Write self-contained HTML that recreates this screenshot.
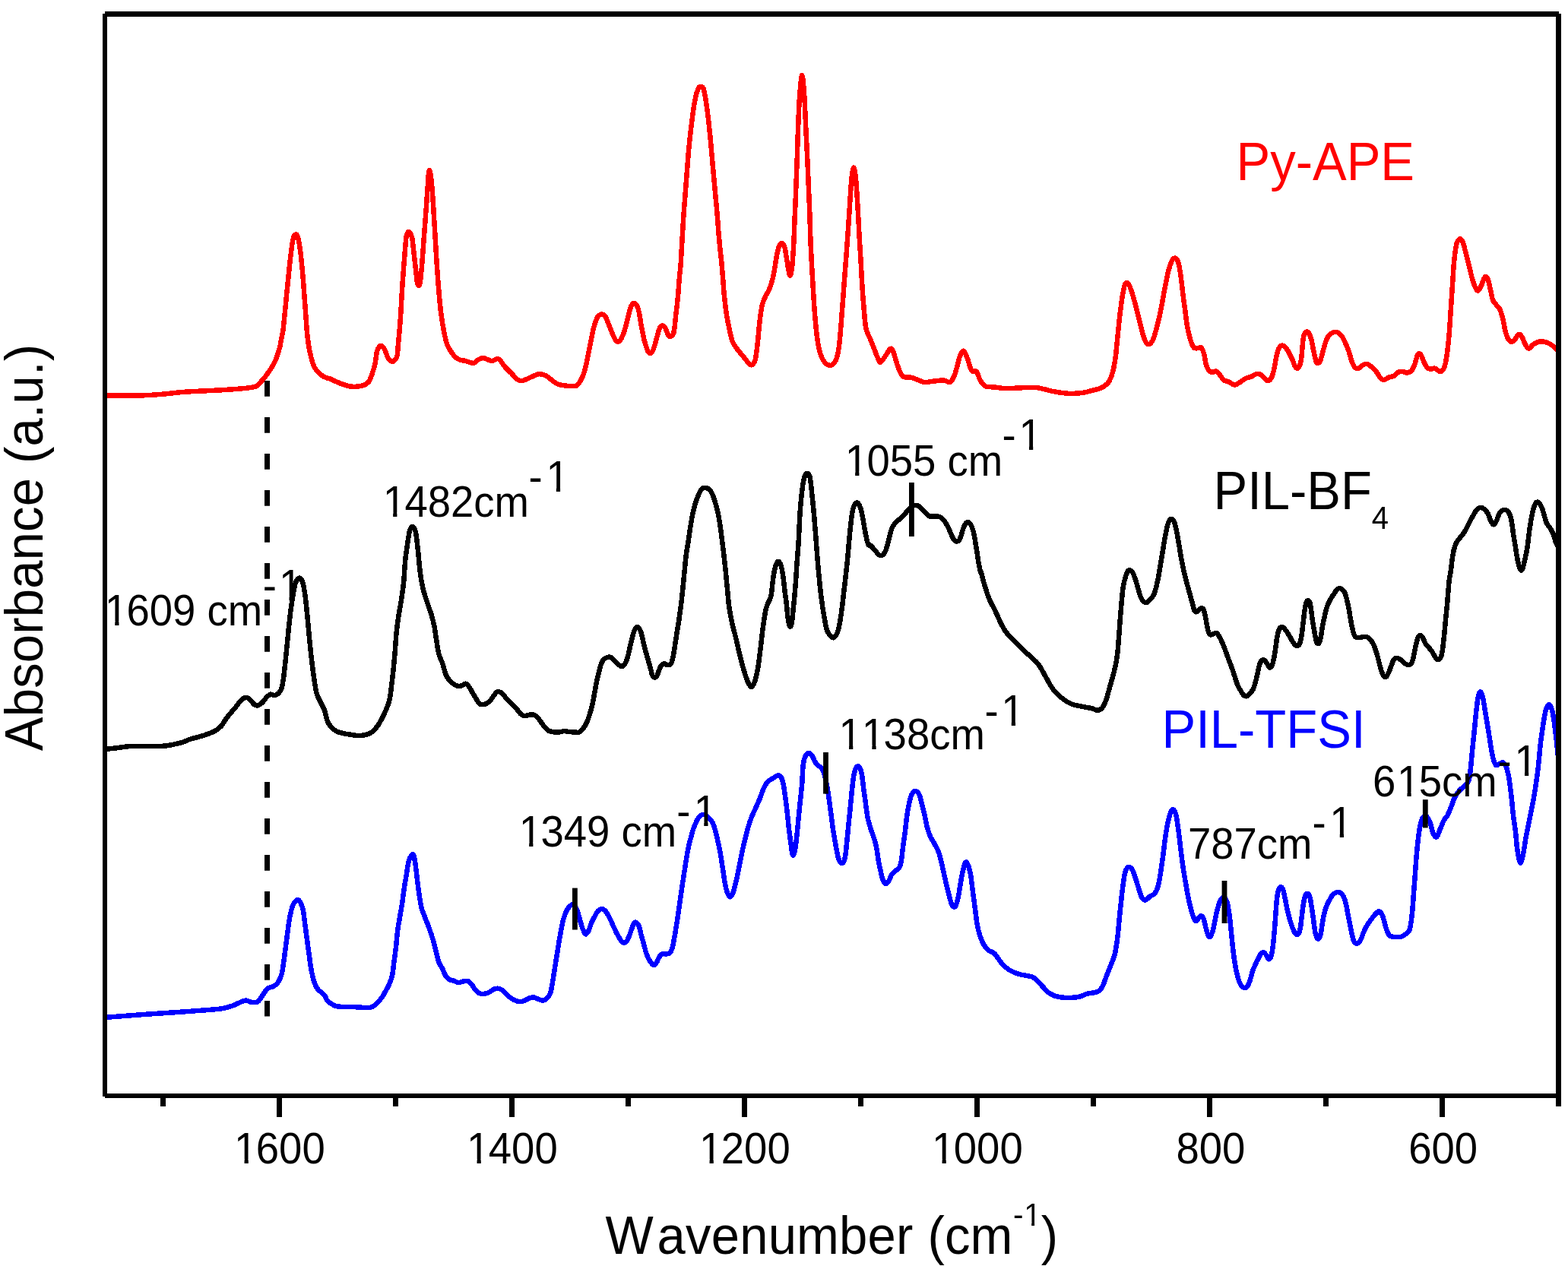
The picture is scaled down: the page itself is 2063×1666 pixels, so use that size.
<!DOCTYPE html><html><head><meta charset="utf-8"><title>FTIR spectra</title>
<style>html,body{margin:0;padding:0;background:#fff;}body{width:2063px;height:1666px;overflow:hidden;}svg{display:block;font-family:'Liberation Sans',Arial,Helvetica,sans-serif;font-kerning:none;}</style></head><body>
<svg xmlns="http://www.w3.org/2000/svg" width="2063" height="1666" viewBox="0 0 2063 1666">
<rect width="2063" height="1666" fill="#fff"/>
<defs><clipPath id="pa"><rect x="138" y="18" width="1912.5" height="1424"/></clipPath></defs>
<line x1="351.5" y1="501" x2="351.5" y2="1337.5" stroke="#000" stroke-width="7" stroke-dasharray="20.7 27.3"/>
<g clip-path="url(#pa)" fill="none" stroke-width="6.5" stroke-linejoin="round" stroke-linecap="round" shape-rendering="crispEdges">
<path stroke="#f00" d="M138.0,520.4C146.1,520.4 174.0,520.7 186.5,520.4C199.0,520.1 203.4,519.6 213.0,518.8C222.6,518.0 231.0,516.6 244.0,515.7C257.0,514.8 278.0,514.1 291.0,513.3C304.0,512.5 314.5,511.8 322.0,511.0C329.5,510.2 333.0,509.6 336.0,508.7C339.0,507.8 338.8,506.7 340.1,505.5C341.5,504.3 342.8,502.9 344.1,501.5C345.4,500.1 346.8,498.7 348.1,497.0C349.4,495.3 350.8,493.2 352.1,491.3C353.4,489.4 354.9,487.5 356.1,485.6C357.3,483.7 358.4,481.8 359.5,479.9C360.6,478.0 361.5,476.1 362.4,474.2C363.2,472.3 363.9,470.4 364.6,468.5C365.3,466.6 365.8,464.7 366.4,462.8C367.0,460.9 367.6,459.0 368.1,457.1C368.6,455.2 368.8,453.3 369.2,451.4C369.6,449.5 369.9,447.6 370.3,445.7C370.7,443.8 371.1,441.9 371.5,440.0C371.9,438.1 372.1,438.2 372.5,434.5C372.9,430.8 373.6,423.2 374.2,417.6C374.8,412.0 375.3,406.4 375.9,400.8C376.4,395.2 376.9,389.6 377.5,384.0C378.1,378.4 378.6,372.8 379.2,367.2C379.8,361.6 380.3,355.7 380.9,350.4C381.5,345.1 382.0,340.1 382.6,335.3C383.2,330.5 383.7,325.7 384.3,321.8C384.9,317.9 385.5,314.0 386.4,311.8C387.3,309.6 388.8,308.4 389.7,308.4C390.6,308.4 391.1,309.6 391.8,311.8C392.5,314.0 393.3,318.2 393.9,321.8C394.5,325.4 395.1,329.5 395.6,333.6C396.1,337.7 396.5,342.0 396.9,346.2C397.3,350.4 397.7,354.1 398.1,358.8C398.5,363.5 399.0,369.3 399.4,374.5C399.8,379.7 400.1,384.9 400.5,390.2C400.9,395.5 401.3,401.0 401.7,406.4C402.1,411.8 402.5,417.2 402.9,422.6C403.3,428.0 403.6,433.4 404.1,438.8C404.7,444.2 405.4,450.3 406.2,455.0C406.9,459.7 407.7,463.4 408.6,467.2C409.5,471.0 410.4,474.7 411.4,477.7C412.4,480.7 413.3,482.9 414.7,485.0C416.1,487.1 417.9,489.0 419.5,490.6C421.1,492.2 422.8,493.6 424.4,494.7C426.0,495.8 427.5,496.5 429.2,497.1C430.9,497.7 433.0,497.9 434.7,498.5C436.4,499.1 436.9,499.8 439.6,501.0C442.3,502.2 447.2,504.5 451.1,505.8C455.0,507.1 458.5,508.4 462.7,508.7C466.9,509.0 472.4,508.7 476.1,507.7C479.8,506.7 482.5,505.5 484.7,502.9C486.9,500.3 488.1,496.3 489.5,492.3C490.9,488.3 492.3,484.0 493.4,478.9C494.5,473.8 495.0,465.6 496.3,461.6C497.6,457.6 499.5,455.2 501.1,454.9C502.7,454.6 504.3,457.0 505.9,459.7C507.5,462.4 508.9,468.5 510.7,471.2C512.5,473.9 514.5,476.3 516.4,476.0C518.3,475.7 521.0,472.8 522.2,469.3C523.4,465.8 523.2,460.7 523.8,455.0C524.4,449.3 525.0,441.9 525.6,435.0C526.2,428.1 526.6,424.0 527.2,413.8C527.9,403.6 528.7,385.9 529.5,374.0C530.3,362.1 531.1,352.3 531.9,342.2C532.7,332.1 533.5,319.6 534.3,313.6C535.1,307.6 535.7,307.3 536.5,306.0C537.3,304.7 538.1,304.4 539.1,305.7C540.1,307.0 541.4,308.8 542.3,313.6C543.2,318.4 543.9,327.4 544.7,334.3C545.5,341.2 546.2,348.4 547.0,355.0C547.8,361.6 548.5,371.1 549.4,374.0C550.3,376.9 551.7,376.5 552.6,372.5C553.5,368.5 554.2,359.2 555.0,350.2C555.8,341.2 556.6,329.0 557.4,318.4C558.2,307.8 559.0,297.2 559.8,286.6C560.6,276.0 561.5,264.1 562.1,254.8C562.8,245.5 563.2,236.0 563.7,230.9C564.2,225.8 564.6,223.2 565.3,224.5C566.0,225.8 566.9,231.2 567.7,238.9C568.5,246.6 569.3,258.8 570.1,270.7C570.9,282.6 571.7,297.1 572.5,310.4C573.3,323.6 574.1,338.3 574.9,350.2C575.7,362.1 576.4,371.4 577.3,382.0C578.2,392.6 579.2,404.5 580.4,413.8C581.6,423.1 583.1,431.1 584.4,437.7C585.7,444.3 586.8,449.2 588.4,453.6C590.0,458.0 592.5,461.3 594.3,464.0C596.1,466.7 597.4,468.4 599.2,470.0C601.0,471.6 602.8,472.8 605.0,473.6C607.2,474.4 609.5,474.3 612.5,475.0C615.5,475.7 620.1,478.2 623.0,477.9C625.9,477.6 627.5,474.2 629.7,473.1C632.0,472.0 633.6,470.9 636.5,471.2C639.4,471.5 643.8,474.8 647.0,475.0C650.2,475.2 652.8,470.9 655.7,472.2C658.6,473.5 661.3,479.3 664.3,482.7C667.3,486.1 671.3,489.6 673.9,492.3C676.5,495.0 677.5,497.6 679.7,499.0C682.0,500.4 684.2,501.5 687.4,501.0C690.6,500.5 695.4,497.6 698.9,496.2C702.4,494.8 705.3,492.6 708.5,492.3C711.7,492.0 715.2,493.0 718.1,494.3C721.0,495.6 723.0,498.1 725.8,500.0C728.6,501.9 730.2,504.5 735.1,505.9C740.0,507.3 750.8,508.2 755.0,508.2C759.2,508.2 758.6,507.4 760.1,506.1C761.6,504.8 763.0,502.4 764.3,500.2C765.5,497.9 766.5,495.6 767.6,492.6C768.7,489.7 769.7,486.1 770.6,482.5C771.5,478.9 772.3,474.6 773.1,470.8C773.9,467.0 774.4,463.7 775.2,459.8C776.0,455.9 776.9,451.4 777.7,447.2C778.6,443.0 779.4,438.4 780.3,434.6C781.2,430.8 782.1,427.6 783.2,424.5C784.3,421.4 785.5,417.9 787.0,416.1C788.5,414.3 790.5,413.6 792.0,413.6C793.5,413.6 794.9,414.4 796.2,416.1C797.5,417.8 798.5,421.0 799.6,423.7C800.7,426.4 801.8,429.3 802.9,432.1C804.0,434.9 805.2,438.0 806.3,440.5C807.4,443.0 808.6,445.7 809.7,447.2C810.8,448.7 811.9,449.7 813.0,449.7C814.1,449.7 815.3,448.7 816.4,447.2C817.5,445.7 818.7,442.9 819.7,440.5C820.7,438.1 821.4,435.7 822.3,432.9C823.1,430.1 824.0,426.9 824.8,423.7C825.6,420.5 826.5,416.8 827.3,413.6C828.1,410.4 828.9,406.8 829.8,404.4C830.7,402.0 831.7,400.0 832.8,399.3C833.9,398.6 835.5,399.1 836.6,400.2C837.7,401.3 838.7,403.6 839.5,406.1C840.3,408.6 841.0,412.0 841.6,415.3C842.2,418.6 842.7,422.6 843.3,426.2C843.9,429.8 844.7,433.6 845.4,437.1C846.1,440.6 846.7,444.1 847.5,447.2C848.3,450.3 849.2,453.1 850.0,455.6C850.8,458.1 851.5,460.8 852.5,462.4C853.5,463.9 854.8,465.2 855.9,464.9C857.0,464.6 858.2,462.7 859.2,460.7C860.2,458.7 860.9,455.9 861.8,453.1C862.6,450.3 863.5,447.0 864.3,443.9C865.1,440.8 866.0,437.0 866.8,434.6C867.6,432.2 868.3,430.6 869.3,429.6C870.3,428.6 871.7,428.3 872.7,428.7C873.8,429.1 874.7,430.4 875.6,432.1C876.5,433.8 877.4,437.0 878.2,438.8C879.1,440.6 879.8,442.4 880.7,443.0C881.6,443.6 882.7,442.9 883.6,442.2C884.5,441.5 885.4,441.1 886.1,438.8C886.8,436.5 887.3,431.9 887.8,428.5C888.2,425.1 888.4,422.3 888.8,418.4C889.2,414.5 889.8,409.9 890.4,404.9C891.0,399.9 891.6,393.6 892.1,388.6C892.6,383.6 892.8,379.6 893.1,375.1C893.5,370.6 893.8,366.6 894.2,361.6C894.7,356.7 895.0,357.3 895.8,345.4C896.6,333.5 897.9,306.9 899.0,290.0C900.1,273.1 901.3,259.2 902.5,244.0C903.7,228.8 904.7,213.1 906.0,199.0C907.3,184.9 908.9,170.9 910.3,159.5C911.7,148.1 913.2,137.8 914.6,130.6C916.0,123.4 917.6,118.9 918.8,116.2C920.0,113.5 920.8,114.2 922.0,114.5C923.2,114.8 924.6,112.9 926.0,118.0C927.4,123.1 929.1,134.5 930.5,145.0C931.9,155.5 933.2,167.5 934.5,181.0C935.8,194.5 937.2,211.8 938.5,226.0C939.8,240.2 941.4,256.7 942.2,266.0C943.1,275.3 943.2,276.5 943.6,282.0C944.0,287.5 944.5,293.3 944.9,299.0C945.3,304.7 945.8,310.8 946.3,316.0C946.8,321.2 947.2,325.2 947.7,330.0C948.2,334.8 948.8,339.7 949.3,345.0C949.8,350.3 950.2,355.0 950.8,362.0C951.4,369.0 951.9,378.3 952.7,387.0C953.6,395.7 954.8,406.5 955.9,414.0C957.0,421.5 958.1,426.0 959.4,432.0C960.7,438.0 961.9,445.0 963.8,449.8C965.7,454.6 968.7,457.6 970.9,460.6C973.1,463.7 974.9,465.4 977.1,468.1C979.3,470.8 982.2,474.9 984.1,476.9C986.0,478.9 987.2,480.7 988.7,480.3C990.2,479.9 992.2,477.6 993.3,474.6C994.4,471.6 994.8,466.9 995.5,462.1C996.2,457.4 996.7,451.8 997.3,446.1C997.9,440.4 998.4,433.1 999.0,427.8C999.6,422.5 1000.0,418.7 1000.7,414.1C1001.4,409.5 1002.0,404.4 1003.0,400.4C1004.0,396.4 1005.6,393.2 1007.0,390.2C1008.4,387.2 1010.2,385.1 1011.5,382.2C1012.8,379.3 1013.9,376.4 1014.9,373.0C1015.9,369.6 1016.9,365.8 1017.8,361.6C1018.7,357.4 1019.3,352.5 1020.1,347.9C1020.9,343.3 1021.5,338.2 1022.4,334.2C1023.2,330.2 1024.1,326.4 1025.2,324.0C1026.3,321.6 1028.0,319.6 1029.2,320.0C1030.4,320.4 1031.6,322.9 1032.6,326.2C1033.5,329.5 1034.1,335.3 1034.9,339.9C1035.7,344.5 1036.4,349.8 1037.2,353.6C1038.0,357.4 1038.7,362.8 1039.5,362.8C1040.3,362.8 1041.1,358.4 1041.8,353.6C1042.5,348.8 1043.0,340.7 1043.5,334.2C1044.0,327.7 1044.3,320.9 1044.6,314.8C1044.9,308.8 1044.8,308.2 1045.2,297.9C1045.6,287.5 1046.5,268.8 1047.1,252.7C1047.7,236.6 1048.5,216.1 1049.0,201.1C1049.5,186.1 1049.8,175.3 1050.3,162.4C1050.8,149.5 1051.5,134.2 1052.3,123.7C1053.1,113.2 1054.2,99.2 1055.2,99.2C1056.2,99.2 1057.3,113.2 1058.1,123.7C1058.9,134.2 1059.4,149.5 1060.0,162.4C1060.6,175.3 1061.2,187.1 1061.9,201.1C1062.6,215.1 1063.3,233.2 1063.9,246.3C1064.5,259.4 1064.8,267.8 1065.3,280.0C1065.8,292.2 1066.0,306.4 1066.6,319.6C1067.1,332.8 1067.9,347.2 1068.6,359.3C1069.3,371.4 1069.9,382.4 1070.6,392.3C1071.2,402.2 1071.7,409.9 1072.5,418.7C1073.3,427.5 1074.1,437.4 1075.2,445.1C1076.3,452.8 1077.6,459.6 1079.2,464.9C1080.8,470.2 1082.8,474.1 1085.1,476.8C1087.4,479.5 1090.6,481.2 1093.0,480.8C1095.4,480.4 1097.8,477.9 1099.6,474.2C1101.4,470.4 1102.5,465.4 1103.6,458.3C1104.7,451.2 1105.4,440.7 1106.2,431.9C1107.0,423.1 1107.5,414.3 1108.2,405.5C1108.9,396.7 1109.5,387.9 1110.2,379.1C1110.9,370.3 1111.5,361.5 1112.2,352.7C1112.9,343.9 1113.6,335.0 1114.2,326.2C1114.8,317.4 1115.3,311.0 1116.1,299.8C1116.8,288.6 1118.0,270.3 1118.7,259.2C1119.5,248.1 1119.8,239.8 1120.6,233.4C1121.3,227.0 1122.3,220.5 1123.2,220.5C1124.1,220.5 1125.0,227.0 1125.8,233.4C1126.5,239.8 1127.1,250.6 1127.7,259.2C1128.3,267.8 1128.7,276.0 1129.2,285.0C1129.7,294.0 1130.1,302.8 1130.7,313.0C1131.3,323.2 1132.1,335.0 1132.7,346.0C1133.3,357.0 1133.9,369.2 1134.6,379.1C1135.2,389.0 1135.8,396.7 1136.6,405.5C1137.4,414.3 1138.0,425.3 1139.3,431.9C1140.6,438.5 1142.8,440.7 1144.5,445.1C1146.2,449.5 1148.0,453.9 1149.8,458.3C1151.6,462.7 1153.6,468.5 1155.1,471.5C1156.6,474.5 1156.8,477.3 1158.6,476.5C1160.4,475.7 1163.8,469.8 1165.9,466.9C1168.0,464.0 1169.5,460.0 1171.0,459.2C1172.5,458.4 1173.2,457.9 1174.9,461.8C1176.6,465.7 1179.2,476.8 1181.4,482.4C1183.6,488.0 1185.0,492.9 1187.8,495.3C1190.6,497.7 1195.1,496.0 1198.1,496.6C1201.1,497.2 1202.9,498.1 1205.9,499.2C1208.9,500.3 1212.8,502.7 1216.2,503.1C1219.6,503.5 1222.2,502.2 1226.5,501.8C1230.8,501.4 1238.1,500.3 1242.0,500.5C1245.9,500.7 1247.4,504.4 1249.8,503.1C1252.2,501.8 1254.0,498.4 1256.2,492.8C1258.4,487.2 1260.8,474.7 1262.7,469.5C1264.6,464.3 1266.1,461.4 1267.8,461.8C1269.5,462.2 1271.3,467.8 1273.0,472.1C1274.7,476.4 1276.3,484.8 1278.2,487.6C1280.1,490.4 1282.7,486.8 1284.6,488.9C1286.5,491.0 1287.8,497.3 1289.8,500.5C1291.8,503.7 1293.1,506.7 1296.3,508.2C1299.5,509.7 1304.6,509.0 1309.2,509.5C1313.8,510.0 1315.5,511.1 1323.7,511.2C1331.9,511.2 1350.3,509.7 1358.6,509.8C1366.8,509.9 1368.8,511.1 1373.2,512.0C1377.6,512.9 1379.5,513.9 1384.8,514.9C1390.1,515.9 1398.7,517.4 1405.2,517.8C1411.8,518.1 1418.5,517.7 1424.1,517.0C1429.7,516.3 1434.5,514.5 1438.6,513.4C1442.7,512.3 1445.7,512.0 1448.8,510.5C1451.9,509.0 1455.1,506.8 1457.3,504.5C1459.5,502.2 1460.5,499.9 1461.8,496.5C1463.1,493.1 1464.2,488.9 1465.3,484.0C1466.3,479.1 1467.3,472.6 1468.1,466.9C1468.8,461.2 1469.2,455.5 1469.8,449.8C1470.4,444.1 1470.9,438.4 1471.5,432.7C1472.1,427.0 1472.6,421.2 1473.3,415.5C1474.0,409.8 1474.8,403.7 1475.5,398.4C1476.2,393.1 1477.0,387.6 1477.8,383.6C1478.6,379.6 1479.2,376.4 1480.1,374.5C1480.9,372.6 1482.0,372.0 1482.9,372.2C1483.9,372.4 1484.8,373.5 1485.8,375.6C1486.8,377.7 1488.1,381.4 1489.2,384.8C1490.3,388.2 1491.4,392.0 1492.6,396.2C1493.8,400.4 1494.9,405.2 1496.1,409.8C1497.2,414.4 1498.4,418.9 1499.5,423.5C1500.6,428.1 1501.8,433.2 1502.9,437.2C1504.0,441.2 1505.0,444.8 1506.3,447.5C1507.6,450.2 1509.4,452.8 1510.9,453.2C1512.4,453.6 1514.2,451.7 1515.5,449.8C1516.8,447.9 1517.8,445.2 1518.9,441.8C1520.0,438.4 1521.2,433.6 1522.3,429.2C1523.4,424.8 1524.6,420.6 1525.7,415.5C1526.8,410.4 1527.9,404.5 1529.1,398.4C1530.2,392.3 1531.4,385.1 1532.6,379.0C1533.8,372.9 1534.9,366.8 1536.0,361.9C1537.1,357.0 1538.3,352.8 1539.4,349.4C1540.5,346.0 1541.7,343.0 1542.8,341.4C1543.9,339.8 1545.1,339.3 1546.3,339.7C1547.5,340.1 1548.7,340.9 1549.7,343.7C1550.7,346.4 1551.7,351.3 1552.5,356.2C1553.3,361.1 1554.0,367.2 1554.8,373.3C1555.6,379.4 1556.3,386.6 1557.1,392.7C1557.9,398.8 1558.7,404.1 1559.4,409.8C1560.2,415.5 1560.8,421.9 1561.6,427.0C1562.4,432.1 1563.5,436.4 1564.5,440.6C1565.5,444.8 1566.8,449.1 1567.9,452.0C1569.0,454.9 1569.8,456.8 1571.3,457.8C1572.8,458.8 1575.2,458.2 1576.7,458.1C1578.2,458.0 1579.2,456.2 1580.4,457.4C1581.6,458.6 1582.9,461.6 1584.0,465.4C1585.1,469.2 1585.8,476.1 1587.0,480.0C1588.2,483.9 1589.6,487.1 1591.3,488.7C1593.0,490.3 1595.5,489.4 1597.1,489.4C1598.7,489.4 1599.2,487.8 1600.7,488.7C1602.2,489.6 1604.2,492.6 1605.8,494.5C1607.4,496.4 1608.5,499.0 1610.2,500.3C1611.9,501.6 1613.4,501.1 1615.8,502.1C1618.2,503.1 1621.8,506.4 1624.5,506.5C1627.2,506.6 1629.4,504.2 1631.8,502.8C1634.2,501.4 1636.7,499.0 1639.1,497.8C1641.5,496.6 1644.0,496.6 1646.4,495.6C1648.8,494.6 1651.4,492.3 1653.6,491.9C1655.8,491.5 1657.2,491.9 1659.4,493.4C1661.6,494.9 1664.5,500.0 1666.7,500.7C1668.9,501.4 1670.9,500.2 1672.5,497.8C1674.1,495.4 1675.0,491.2 1676.2,486.1C1677.4,481.0 1678.6,472.1 1679.8,467.2C1681.0,462.3 1682.0,459.1 1683.4,457.0C1684.9,454.9 1686.7,454.2 1688.5,454.9C1690.3,455.6 1692.3,458.4 1694.3,461.4C1696.2,464.4 1698.5,469.4 1700.2,473.0C1701.9,476.6 1703.2,481.4 1704.5,483.2C1705.8,485.0 1707.0,485.3 1708.2,483.9C1709.4,482.4 1710.7,480.9 1711.8,474.5C1712.9,468.1 1713.7,451.6 1714.7,445.4C1715.7,439.2 1716.5,438.7 1717.6,437.4C1718.7,436.1 1720.0,436.1 1721.2,437.4C1722.4,438.7 1723.7,441.1 1724.9,445.4C1726.1,449.6 1727.3,457.7 1728.5,462.9C1729.7,468.1 1730.8,474.5 1732.1,476.7C1733.4,478.9 1735.2,478.1 1736.5,476.0C1737.8,473.9 1738.9,468.4 1740.1,464.3C1741.3,460.2 1742.5,454.9 1743.8,451.2C1745.1,447.4 1746.4,444.1 1748.1,441.8C1749.8,439.5 1752.0,438.1 1754.0,437.4C1756.0,436.7 1757.9,436.5 1759.8,437.4C1761.7,438.2 1763.9,440.2 1765.6,442.5C1767.3,444.8 1768.5,448.1 1770.0,451.2C1771.5,454.3 1772.8,457.3 1774.3,461.4C1775.8,465.5 1777.2,472.1 1778.7,475.9C1780.2,479.6 1781.5,482.4 1783.0,483.9C1784.5,485.4 1785.7,485.3 1787.4,484.7C1789.1,484.1 1791.3,481.3 1793.2,480.3C1795.1,479.3 1797.0,478.4 1799.0,478.9C1801.0,479.4 1803.0,481.5 1804.9,483.2C1806.9,484.9 1808.8,486.6 1810.7,489.0C1812.6,491.4 1814.8,496.0 1816.5,497.8C1818.2,499.6 1819.0,500.1 1820.9,499.9C1822.8,499.6 1825.9,497.1 1828.1,496.3C1830.3,495.5 1832.0,495.9 1833.9,494.8C1835.8,493.7 1837.8,490.8 1839.7,489.8C1841.7,488.8 1843.6,488.9 1845.6,489.0C1847.5,489.1 1849.5,490.7 1851.4,490.5C1853.3,490.3 1855.5,489.5 1857.2,487.6C1858.9,485.7 1860.4,482.0 1861.6,478.9C1862.8,475.8 1863.5,471.0 1864.5,468.7C1865.5,466.4 1866.4,465.0 1867.4,465.0C1868.4,465.0 1869.1,466.4 1870.3,468.7C1871.5,471.0 1873.1,476.2 1874.6,478.9C1876.0,481.6 1877.5,483.6 1879.0,484.7C1880.5,485.8 1882.0,485.4 1883.4,485.4C1884.9,485.4 1886.2,484.3 1887.7,484.7C1889.2,485.1 1890.8,486.9 1892.1,487.6C1893.4,488.3 1894.3,489.7 1895.7,489.0C1897.1,488.3 1899.0,486.7 1900.2,483.6C1901.5,480.5 1902.4,475.0 1903.2,470.4C1904.0,465.8 1904.4,461.4 1905.0,456.0C1905.6,450.6 1906.3,444.0 1906.8,438.0C1907.3,432.0 1907.6,426.0 1908.0,420.0C1908.4,414.0 1908.8,408.0 1909.2,402.0C1909.6,396.0 1910.0,390.0 1910.4,384.0C1910.8,378.0 1911.2,372.0 1911.6,366.0C1912.0,360.0 1912.3,353.8 1912.8,348.0C1913.3,342.2 1913.9,336.0 1914.6,331.2C1915.3,326.4 1915.9,322.0 1917.0,319.2C1918.1,316.4 1919.9,314.4 1921.2,314.4C1922.5,314.4 1923.7,316.6 1924.8,319.2C1925.9,321.8 1926.8,326.2 1927.8,330.0C1928.8,333.8 1929.8,338.0 1930.8,342.0C1931.8,346.0 1932.8,350.0 1933.8,354.0C1934.8,358.0 1935.7,362.2 1936.8,366.0C1937.9,369.8 1939.1,374.0 1940.4,376.8C1941.7,379.6 1943.2,383.0 1944.6,382.8C1946.0,382.6 1947.7,378.2 1949.0,375.6C1950.3,373.0 1951.3,369.0 1952.3,367.0C1953.3,365.0 1954.0,363.4 1955.0,363.8C1956.0,364.2 1957.2,366.3 1958.2,369.2C1959.2,372.1 1959.9,376.7 1960.9,381.0C1961.9,385.3 1962.9,391.8 1964.2,395.1C1965.5,398.4 1967.0,399.0 1968.5,401.0C1970.0,403.0 1971.9,404.0 1973.3,407.0C1974.7,410.0 1975.9,414.2 1977.1,418.9C1978.3,423.6 1979.3,430.8 1980.4,435.1C1981.5,439.4 1982.3,442.4 1983.6,444.8C1984.8,447.2 1986.5,449.2 1987.9,449.7C1989.4,450.2 1990.8,449.4 1992.3,448.0C1993.8,446.6 1995.3,443.0 1996.6,441.6C1997.8,440.2 1998.7,439.4 1999.8,439.9C2000.9,440.4 2001.8,442.4 2003.1,444.8C2004.4,447.2 2006.0,452.2 2007.4,454.5C2008.8,456.8 2010.1,459.0 2011.7,458.8C2013.3,458.6 2014.9,454.9 2017.1,453.4C2019.3,451.9 2022.4,450.3 2024.7,449.7C2027.0,449.1 2028.9,449.3 2031.1,449.7C2033.2,450.1 2035.4,450.7 2037.6,451.8C2039.8,452.9 2041.9,454.2 2044.1,456.1C2046.2,458.0 2049.4,461.9 2050.5,463.0"/>
<path stroke="#000" d="M139.7,985.8C142.0,985.5 148.0,984.9 153.7,984.3C159.4,983.6 164.1,982.3 174.0,981.9C183.9,981.5 203.9,982.3 213.0,981.9C222.1,981.5 223.9,980.5 228.6,979.6C233.3,978.7 237.4,977.7 241.1,976.5C244.8,975.3 246.1,974.0 250.5,972.6C254.9,971.2 262.2,969.7 267.7,967.9C273.2,966.1 279.4,963.7 283.3,961.6C287.2,959.5 288.8,958.0 291.1,955.4C293.4,952.8 295.2,948.9 297.3,946.0C299.4,943.1 301.2,941.1 303.6,938.2C306.0,935.4 309.1,931.8 311.4,928.9C313.7,926.0 315.5,922.9 317.6,921.1C319.7,919.3 322.1,918.0 323.9,917.9C325.7,917.8 326.7,918.7 328.5,920.3C330.3,921.9 332.9,926.0 334.8,927.3C336.7,928.6 338.2,928.7 340.0,928.2C341.8,927.7 343.5,926.0 345.3,924.3C347.1,922.5 348.9,919.5 350.6,917.7C352.4,915.9 354.1,914.2 355.8,913.7C357.6,913.2 359.3,915.2 361.1,915.0C362.9,914.8 364.8,913.9 366.4,912.4C367.9,910.9 369.3,909.1 370.4,905.8C371.5,902.5 372.2,897.7 373.0,892.6C373.8,887.5 374.3,881.6 375.0,875.4C375.7,869.2 376.2,863.3 377.0,855.6C377.8,847.9 378.7,837.6 379.6,829.2C380.5,820.8 381.2,813.1 382.2,805.4C383.2,797.7 384.4,789.4 385.5,783.0C386.6,776.6 387.5,770.9 388.8,767.2C390.1,763.5 391.9,760.8 393.5,760.6C395.1,760.4 396.8,762.1 398.1,765.8C399.4,769.5 400.4,776.2 401.4,783.0C402.4,789.8 403.1,798.0 404.0,806.8C404.9,815.6 405.8,826.6 406.7,835.8C407.6,845.0 408.3,853.4 409.3,862.2C410.3,871.0 411.4,880.2 412.6,888.6C413.8,897.0 415.0,906.2 416.6,912.4C418.2,918.6 420.8,921.9 422.5,925.6C424.2,929.3 425.8,931.1 427.1,934.8C428.4,938.5 429.1,944.5 430.4,948.0C431.7,951.5 432.9,953.5 435.0,955.9C437.1,958.3 440.1,961.0 443.0,962.5C445.9,964.0 449.4,964.5 452.2,965.2C455.0,965.9 456.5,966.0 460.0,966.5C463.5,967.0 468.6,968.4 473.2,968.1C477.8,967.8 483.7,966.6 487.6,964.5C491.5,962.4 493.9,959.1 496.6,955.5C499.3,951.9 501.6,947.4 503.8,942.9C506.1,938.4 508.6,932.7 510.1,928.5C511.7,924.3 512.0,924.4 513.1,917.8C514.2,911.2 515.6,898.5 516.7,888.9C517.8,879.3 518.7,869.7 519.5,860.1C520.3,850.5 520.9,839.7 521.7,831.3C522.6,822.9 523.5,816.9 524.6,809.7C525.7,802.5 527.1,795.3 528.2,788.1C529.3,780.9 530.3,774.9 531.1,766.5C531.9,758.1 532.4,746.0 533.2,737.6C534.0,729.2 535.1,722.5 536.1,716.0C537.1,709.5 537.9,702.5 539.0,698.7C540.1,694.9 541.7,692.8 543.0,693.0C544.3,693.2 545.8,695.2 546.9,700.2C548.0,705.2 548.8,714.6 549.8,723.2C550.8,731.8 551.6,743.6 552.7,752.0C553.8,760.4 554.8,767.0 556.3,773.7C557.8,780.4 560.1,786.4 562.0,792.4C563.9,798.4 566.2,804.4 567.8,809.7C569.4,815.0 570.3,818.6 571.4,824.1C572.5,829.6 573.3,836.8 574.3,842.8C575.3,848.8 575.9,855.0 577.2,860.1C578.5,865.2 580.7,868.5 582.2,873.1C583.8,877.7 585.0,883.9 586.5,887.5C588.0,891.1 588.7,892.3 590.9,894.7C593.1,897.1 596.9,900.6 599.5,901.9C602.1,903.2 604.5,903.0 606.7,902.6C608.9,902.2 610.8,899.6 612.5,899.7C614.2,899.8 615.4,901.5 616.8,903.3C618.2,905.1 619.7,908.1 621.1,910.5C622.5,912.9 623.8,915.2 625.4,917.8C627.0,920.4 628.9,924.3 630.5,925.9C632.1,927.5 633.2,927.2 634.8,927.2C636.4,927.2 638.4,926.9 640.1,925.9C641.9,924.9 643.7,923.2 645.3,921.5C646.9,919.8 648.4,917.1 649.7,915.4C651.0,913.7 652.1,912.0 653.2,911.1C654.4,910.2 655.3,909.9 656.6,910.2C657.9,910.5 659.5,911.5 661.0,912.8C662.5,914.1 663.8,916.4 665.4,918.1C667.0,919.9 668.9,921.6 670.6,923.3C672.3,925.0 674.0,926.6 675.8,928.5C677.5,930.4 679.4,932.6 681.1,934.6C682.9,936.6 684.6,939.5 686.3,940.7C688.0,941.9 689.8,942.0 691.5,942.0C693.2,942.0 694.9,940.9 696.8,940.7C698.7,940.5 701.0,940.0 702.9,940.7C704.8,941.4 706.5,943.4 708.1,945.1C709.7,946.9 711.0,949.2 712.5,951.2C714.0,953.2 715.3,955.5 716.9,957.3C718.5,959.0 720.1,960.7 722.1,961.7C724.1,962.7 726.8,963.1 729.1,963.4C731.4,963.7 733.8,963.6 736.0,963.4C738.2,963.2 740.2,962.2 742.2,962.1C744.2,962.0 746.1,962.8 748.3,963.0C750.5,963.2 752.9,963.3 755.2,963.4C757.5,963.5 760.2,964.3 762.2,963.4C764.2,962.5 765.9,960.2 767.5,958.2C769.1,956.2 770.5,954.0 771.8,951.2C773.1,948.4 774.3,944.7 775.3,941.6C776.3,938.5 777.0,936.2 777.9,932.9C778.8,929.5 779.6,925.9 780.5,921.5C781.4,917.1 782.3,911.4 783.2,906.7C784.1,902.1 784.9,897.5 785.8,893.6C786.7,889.7 787.5,886.5 788.4,883.2C789.3,879.9 790.0,876.2 791.0,873.6C792.0,871.0 793.0,869.0 794.5,867.5C796.0,866.0 798.5,865.1 800.2,864.7C801.9,864.4 803.0,864.5 804.5,865.4C806.0,866.2 807.4,868.3 808.9,869.8C810.4,871.3 811.7,873.0 813.3,874.2C814.9,875.4 816.9,877.1 818.4,877.1C819.9,877.1 820.9,875.8 822.0,874.2C823.1,872.6 824.0,870.0 824.9,867.6C825.8,865.2 826.4,862.6 827.1,859.6C827.8,856.6 828.5,852.8 829.3,849.4C830.1,846.0 830.9,842.4 831.8,839.3C832.6,836.1 833.5,832.8 834.4,830.5C835.3,828.2 836.3,826.1 837.3,825.4C838.3,824.7 839.2,825.2 840.2,826.2C841.2,827.2 842.2,829.0 843.1,831.3C844.0,833.6 844.6,837.0 845.3,840.0C846.0,843.0 846.5,846.0 847.4,849.4C848.2,852.8 849.4,856.9 850.4,860.4C851.4,863.9 852.3,867.1 853.3,870.5C854.3,873.9 855.4,877.7 856.2,880.7C857.0,883.7 857.4,886.9 858.3,888.7C859.1,890.5 860.3,891.5 861.3,891.6C862.3,891.7 863.2,891.0 864.2,889.4C865.2,887.8 866.1,884.5 867.1,882.2C868.1,879.9 868.9,877.1 870.0,875.6C871.1,874.1 872.4,873.5 873.6,873.4C874.8,873.3 876.1,874.6 877.3,874.9C878.5,875.1 879.8,875.5 880.9,874.9C882.0,874.3 882.9,873.5 883.8,871.3C884.6,869.1 885.3,865.2 886.0,861.8C886.7,858.4 887.2,854.6 887.8,850.9C888.4,847.1 889.0,843.2 889.6,839.3C890.2,835.4 890.8,831.5 891.4,827.6C892.0,823.7 892.8,819.6 893.3,816.0C893.8,812.4 894.1,810.2 894.7,805.8C895.3,801.4 896.0,797.0 896.8,789.6C897.6,782.2 898.8,770.6 899.7,761.1C900.7,751.6 901.5,741.2 902.5,732.6C903.5,724.0 904.9,717.4 906.0,709.8C907.1,702.2 908.3,693.6 909.4,687.0C910.5,680.4 911.5,675.2 912.8,669.9C914.1,664.6 915.7,659.5 917.4,655.1C919.1,650.7 921.1,645.9 923.1,643.7C925.1,641.5 927.3,641.6 929.3,642.0C931.3,642.4 933.2,643.2 935.0,646.0C936.8,648.8 938.6,653.6 940.2,658.5C941.8,663.4 943.4,669.3 944.7,675.6C946.0,681.9 947.1,688.9 948.1,696.1C949.1,703.3 950.1,711.9 951.0,718.9C951.9,725.9 952.5,731.3 953.3,738.3C954.1,745.3 954.9,753.5 955.6,761.1C956.4,768.7 957.2,777.5 957.8,783.9C958.4,790.3 958.4,793.4 959.4,799.7C960.4,806.0 962.0,814.5 963.6,821.5C965.2,828.5 967.0,834.7 968.7,841.7C970.4,848.7 972.0,856.8 973.7,863.5C975.4,870.2 977.0,876.4 978.7,882.0C980.4,887.6 982.2,893.5 983.8,897.1C985.4,900.8 987.0,903.9 988.5,903.9C990.0,903.9 991.5,901.3 993.0,897.1C994.5,892.9 995.9,886.0 997.2,878.7C998.5,871.4 999.5,862.4 1000.6,853.4C1001.7,844.4 1002.6,833.8 1003.9,824.9C1005.2,816.0 1006.5,806.4 1008.2,799.7C1009.9,793.0 1012.9,790.3 1014.3,784.8C1015.7,779.3 1015.8,772.2 1016.5,766.8C1017.2,761.4 1017.9,756.2 1018.6,752.4C1019.3,748.6 1020.0,746.0 1020.8,743.8C1021.6,741.6 1022.4,739.6 1023.3,739.1C1024.2,738.6 1025.3,739.3 1026.2,740.9C1027.1,742.5 1027.9,745.1 1028.7,748.8C1029.5,752.5 1030.2,757.8 1030.9,763.2C1031.6,768.6 1032.3,775.8 1033.0,781.2C1033.7,786.6 1034.3,790.2 1034.9,795.6C1035.5,801.0 1036.0,808.8 1036.7,813.6C1037.4,818.4 1038.4,823.4 1039.2,824.4C1040.0,825.4 1040.9,823.6 1041.7,819.4C1042.5,815.2 1043.2,805.6 1043.9,799.2C1044.6,792.8 1045.2,787.2 1045.7,781.2C1046.2,775.2 1046.6,769.8 1047.1,763.2C1047.6,756.6 1047.9,749.9 1048.5,741.6C1049.1,733.4 1049.9,725.4 1050.6,713.7C1051.3,702.0 1052.0,683.1 1052.8,671.4C1053.6,659.6 1054.7,650.5 1055.6,643.2C1056.5,635.9 1057.4,631.1 1058.4,627.7C1059.5,624.3 1060.7,622.8 1061.9,622.8C1063.1,622.8 1064.4,623.1 1065.5,627.7C1066.6,632.3 1067.4,641.8 1068.3,650.3C1069.2,658.8 1070.2,667.9 1071.1,678.5C1072.0,689.1 1073.0,702.0 1073.9,713.7C1074.8,725.5 1075.6,737.2 1076.7,749.0C1077.8,760.8 1079.0,773.7 1080.3,784.3C1081.6,794.9 1083.1,804.8 1084.5,812.5C1085.9,820.2 1086.7,826.3 1088.7,830.8C1090.7,835.3 1094.2,839.5 1096.5,839.3C1098.8,839.1 1101.0,835.0 1102.8,829.4C1104.6,823.8 1105.7,815.3 1107.1,805.4C1108.5,795.5 1110.0,781.1 1111.3,770.1C1112.6,759.1 1113.6,750.9 1114.8,739.1C1116.0,727.4 1117.1,710.9 1118.3,699.6C1119.5,688.3 1120.5,677.8 1121.9,671.4C1123.3,665.0 1125.2,662.2 1126.8,661.5C1128.4,660.8 1130.3,663.7 1131.7,667.2C1133.1,670.7 1134.1,676.8 1135.3,682.7C1136.5,688.6 1137.6,696.8 1138.8,702.4C1140.0,708.0 1141.2,714.1 1142.3,716.6C1143.3,719.1 1144.0,716.8 1145.1,717.6C1146.2,718.4 1147.5,720.0 1148.7,721.3C1149.9,722.6 1151.2,724.1 1152.4,725.6C1153.6,727.1 1154.8,729.1 1156.0,730.0C1157.2,730.9 1158.2,731.2 1159.3,731.1C1160.4,731.0 1161.5,730.4 1162.5,729.3C1163.5,728.1 1164.6,726.3 1165.4,724.2C1166.2,722.1 1166.9,719.6 1167.6,716.9C1168.3,714.2 1169.1,711.1 1169.8,708.2C1170.5,705.3 1171.3,701.8 1172.0,699.4C1172.7,697.0 1173.4,695.3 1174.2,693.6C1175.0,691.9 1175.9,690.8 1177.1,689.3C1178.3,687.8 1180.1,686.1 1181.4,684.9C1182.7,683.7 1184.0,683.0 1185.1,682.0C1186.2,681.0 1186.8,680.4 1188.0,679.1C1189.2,677.8 1191.0,675.6 1192.4,674.0C1193.9,672.4 1195.1,671.0 1196.7,669.6C1198.3,668.2 1200.1,666.3 1201.8,665.6C1203.5,664.9 1205.5,665.0 1206.9,665.3C1208.4,665.6 1209.2,666.4 1210.5,667.5C1211.8,668.6 1213.6,670.5 1214.9,671.8C1216.2,673.1 1217.3,674.2 1218.5,675.4C1219.7,676.6 1220.7,678.4 1222.2,679.1C1223.7,679.8 1225.4,679.4 1227.3,679.4C1229.2,679.4 1232.0,679.1 1233.8,679.4C1235.6,679.7 1236.8,680.3 1238.2,681.3C1239.7,682.3 1241.3,684.1 1242.5,685.6C1243.7,687.1 1244.4,688.3 1245.4,690.0C1246.4,691.7 1247.3,693.7 1248.3,695.8C1249.3,697.9 1250.3,700.3 1251.2,702.4C1252.1,704.5 1253.0,706.6 1253.8,708.2C1254.6,709.8 1255.4,711.1 1256.3,711.8C1257.2,712.5 1258.2,712.7 1259.2,712.5C1260.2,712.3 1261.3,711.7 1262.2,710.4C1263.1,709.1 1263.9,706.9 1264.7,704.5C1265.5,702.1 1266.3,698.3 1267.2,695.8C1268.1,693.3 1269.1,690.8 1270.2,689.3C1271.3,687.8 1272.6,686.9 1273.8,687.1C1275.0,687.3 1276.4,689.0 1277.4,690.7C1278.4,692.4 1279.3,695.0 1280.0,697.3C1280.7,699.6 1281.2,701.5 1281.8,704.5C1282.4,707.5 1283.0,711.8 1283.6,715.4C1284.2,719.0 1284.7,722.0 1285.4,726.3C1286.1,730.5 1286.8,736.4 1287.6,740.9C1288.4,745.4 1289.5,751.0 1290.0,753.0C1290.5,755.0 1289.9,749.9 1290.7,752.6C1291.5,755.3 1293.3,763.1 1295.1,769.0C1296.9,774.9 1299.1,782.2 1301.4,787.9C1303.7,793.6 1306.5,797.8 1309.0,803.0C1311.5,808.2 1314.2,814.8 1316.5,819.4C1318.8,824.0 1320.1,826.9 1322.8,830.7C1325.5,834.5 1329.1,838.1 1332.9,842.1C1336.7,846.1 1341.3,850.7 1345.5,854.7C1349.7,858.7 1354.7,862.9 1358.1,866.0C1361.5,869.1 1363.4,870.6 1365.7,873.6C1368.0,876.6 1369.7,879.7 1372.0,883.7C1374.3,887.7 1377.3,893.5 1379.6,897.5C1381.9,901.5 1383.2,904.2 1385.9,907.6C1388.6,911.0 1391.9,914.6 1395.9,917.7C1399.9,920.9 1405.2,924.5 1409.8,926.5C1414.4,928.5 1419.3,928.8 1423.7,929.7C1428.1,930.7 1433.0,931.4 1436.3,932.2C1439.6,933.0 1441.5,934.8 1443.8,934.7C1446.1,934.6 1448.2,933.8 1450.1,931.6C1452.0,929.4 1453.5,926.1 1455.2,921.5C1456.9,916.9 1458.3,910.5 1460.2,903.8C1462.1,897.1 1464.8,888.5 1466.5,881.1C1468.2,873.8 1469.2,868.5 1470.3,859.7C1471.3,850.9 1472.0,838.7 1472.8,828.2C1473.6,817.7 1474.4,806.2 1475.3,796.7C1476.2,787.2 1476.7,778.6 1477.9,771.5C1479.1,764.4 1481.3,757.5 1482.6,754.0C1483.9,750.5 1484.4,750.6 1485.6,750.4C1486.8,750.2 1488.5,751.0 1489.8,752.8C1491.1,754.6 1492.2,757.8 1493.4,761.2C1494.6,764.6 1495.8,769.2 1497.0,773.2C1498.2,777.2 1499.4,782.2 1500.6,785.2C1501.8,788.2 1502.9,789.9 1504.2,791.2C1505.5,792.5 1506.9,793.4 1508.4,793.0C1509.9,792.6 1511.6,790.5 1513.2,788.8C1514.8,787.1 1516.7,785.4 1518.0,782.8C1519.3,780.2 1520.0,777.0 1521.0,773.2C1522.0,769.4 1523.0,765.2 1524.0,760.0C1525.0,754.8 1526.0,748.0 1527.0,742.0C1528.0,736.0 1529.0,730.0 1530.0,724.0C1531.0,718.0 1532.0,711.4 1533.0,706.0C1534.0,700.6 1535.0,695.2 1536.0,691.6C1537.0,688.0 1538.0,685.8 1539.0,684.4C1540.0,683.0 1541.0,682.8 1542.0,683.2C1543.0,683.6 1544.0,684.2 1545.0,686.8C1546.0,689.4 1547.0,694.0 1548.0,698.8C1549.0,703.6 1550.0,709.8 1551.0,715.6C1552.0,721.4 1552.9,727.6 1554.0,733.6C1555.1,739.6 1556.4,746.2 1557.6,751.6C1558.8,757.0 1560.0,761.4 1561.2,766.0C1562.4,770.6 1563.6,774.8 1564.8,779.2C1566.0,783.6 1567.2,788.2 1568.4,792.4C1569.6,796.6 1570.8,802.4 1572.0,804.4C1573.2,806.4 1574.4,805.0 1575.6,804.4C1576.8,803.8 1577.9,801.2 1579.2,800.8C1580.5,800.4 1582.2,799.8 1583.4,802.0C1584.6,804.2 1585.5,809.8 1586.4,814.0C1587.3,818.2 1587.9,823.7 1588.8,827.2C1589.7,830.7 1590.6,833.8 1591.8,835.0C1593.0,836.2 1594.5,834.7 1596.0,834.4C1597.5,834.1 1599.2,832.2 1600.8,833.2C1602.4,834.2 1604.0,837.4 1605.6,840.4C1607.2,843.4 1608.8,847.2 1610.4,851.2C1612.0,855.2 1613.6,860.0 1615.2,864.4C1616.8,868.8 1618.7,873.1 1620.2,877.3C1621.7,881.5 1622.9,885.5 1624.3,889.6C1625.7,893.7 1627.1,898.6 1628.4,901.8C1629.8,905.0 1631.1,906.8 1632.4,909.0C1633.8,911.2 1635.1,913.9 1636.5,915.1C1637.9,916.3 1639.2,916.6 1640.6,916.1C1642.0,915.6 1643.3,913.5 1644.7,912.0C1646.1,910.5 1647.6,909.3 1648.8,906.9C1650.0,904.5 1650.8,901.5 1651.8,897.8C1652.8,894.1 1653.9,888.8 1654.9,884.5C1655.9,880.2 1656.7,874.9 1658.0,872.2C1659.3,869.5 1661.1,868.0 1662.6,868.2C1664.1,868.4 1665.8,871.6 1667.1,873.3C1668.4,875.0 1669.1,878.1 1670.2,878.4C1671.3,878.7 1672.8,877.5 1673.8,875.3C1674.8,873.1 1675.5,869.0 1676.3,865.1C1677.1,861.2 1677.7,856.4 1678.4,851.8C1679.1,847.2 1679.6,841.7 1680.4,837.6C1681.2,833.5 1682.3,829.3 1683.5,827.3C1684.7,825.2 1686.2,824.9 1687.6,825.3C1688.9,825.6 1690.2,827.7 1691.6,829.4C1692.9,831.1 1694.3,833.3 1695.7,835.5C1697.1,837.7 1698.4,840.5 1699.8,842.7C1701.2,844.9 1702.6,847.6 1703.9,848.8C1705.2,850.0 1706.3,850.3 1707.4,849.8C1708.5,849.3 1709.6,848.1 1710.5,845.7C1711.4,843.3 1711.9,839.9 1712.6,835.5C1713.3,831.1 1713.9,824.6 1714.6,819.2C1715.3,813.8 1715.8,807.5 1716.6,802.9C1717.4,798.3 1718.2,793.5 1719.2,791.6C1720.2,789.7 1721.9,790.1 1722.8,791.6C1723.7,793.1 1724.1,796.7 1724.8,800.8C1725.5,804.9 1726.0,811.0 1726.8,816.1C1727.6,821.2 1728.5,826.6 1729.4,831.4C1730.3,836.2 1731.1,842.2 1732.0,844.7C1732.9,847.2 1734.1,847.6 1735.0,846.7C1735.9,845.9 1736.8,843.0 1737.6,839.6C1738.4,836.2 1738.8,830.5 1739.6,826.3C1740.3,822.0 1741.2,818.0 1742.1,814.1C1742.9,810.2 1743.8,806.3 1744.7,802.9C1745.7,799.5 1746.6,796.4 1747.8,793.7C1749.0,791.0 1750.4,788.7 1751.8,786.5C1753.2,784.3 1754.6,782.3 1755.9,780.4C1757.2,778.5 1758.2,776.3 1759.5,775.3C1760.8,774.3 1762.5,774.0 1763.8,774.3C1765.1,774.5 1766.2,775.5 1767.2,776.8C1768.2,778.1 1769.2,779.4 1770.1,781.9C1771.0,784.4 1771.9,788.5 1772.7,791.9C1773.5,795.2 1774.1,798.2 1774.8,802.0C1775.5,805.8 1776.2,810.7 1776.9,814.6C1777.6,818.5 1778.3,822.4 1779.0,825.6C1779.7,828.8 1780.3,831.8 1781.1,834.0C1781.9,836.2 1782.8,837.8 1784.0,838.6C1785.2,839.4 1787.0,839.1 1788.6,839.0C1790.2,838.9 1791.9,838.3 1793.7,838.2C1795.5,838.1 1797.8,837.8 1799.5,838.6C1801.2,839.4 1802.9,841.5 1804.2,843.2C1805.5,845.0 1806.5,846.7 1807.5,849.1C1808.5,851.5 1809.6,854.7 1810.5,857.5C1811.4,860.3 1812.2,862.8 1813.0,865.9C1813.8,869.0 1814.7,872.9 1815.5,876.0C1816.3,879.1 1817.1,882.0 1818.0,884.4C1818.9,886.8 1820.0,889.3 1821.0,890.3C1822.0,891.3 1823.2,891.3 1824.3,890.3C1825.3,889.3 1826.3,886.6 1827.3,884.4C1828.3,882.1 1829.2,879.3 1830.2,876.8C1831.2,874.3 1832.2,871.1 1833.2,869.3C1834.2,867.5 1835.2,866.3 1836.5,865.9C1837.8,865.5 1839.3,866.1 1840.7,866.8C1842.1,867.5 1843.6,869.0 1845.0,870.1C1846.4,871.2 1847.7,872.6 1849.1,873.5C1850.5,874.4 1852.0,875.4 1853.3,875.2C1854.6,875.1 1856.1,874.0 1857.1,872.6C1858.1,871.2 1858.5,869.4 1859.2,866.8C1859.9,864.1 1860.6,860.1 1861.3,856.7C1862.0,853.3 1862.6,849.7 1863.4,846.6C1864.2,843.5 1865.0,839.9 1866.0,838.2C1867.0,836.5 1868.2,836.1 1869.3,836.5C1870.4,836.9 1871.7,839.0 1872.7,840.7C1873.7,842.4 1874.1,844.8 1875.2,846.6C1876.3,848.4 1878.0,849.9 1879.4,851.6C1880.8,853.3 1882.3,854.9 1883.6,856.7C1884.9,858.5 1885.9,860.7 1887.0,862.5C1888.1,864.3 1889.2,866.8 1890.3,867.6C1891.4,868.5 1892.7,868.3 1893.7,867.6C1894.7,866.9 1895.4,865.9 1896.2,863.4C1897.0,860.9 1897.7,856.9 1898.3,852.5C1898.9,848.1 1899.5,842.2 1900.0,837.3C1900.5,832.4 1900.9,827.5 1901.3,823.0C1901.7,818.5 1902.0,815.3 1902.5,810.4C1903.0,805.5 1903.7,799.2 1904.2,793.6C1904.7,788.0 1905.0,782.1 1905.5,776.8C1906.0,771.5 1906.3,766.4 1906.9,762.0C1907.5,757.6 1908.2,755.6 1908.9,750.5C1909.6,745.4 1910.4,736.5 1911.3,731.2C1912.2,725.9 1913.1,722.1 1914.2,718.8C1915.3,715.4 1916.5,713.5 1918.1,711.1C1919.7,708.7 1922.0,706.7 1923.8,704.3C1925.5,701.9 1927.0,699.6 1928.6,696.7C1930.2,693.8 1931.8,690.2 1933.4,687.1C1935.0,684.0 1936.6,681.1 1938.2,678.4C1939.8,675.7 1941.4,672.5 1943.0,670.7C1944.6,669.0 1946.2,668.0 1947.8,667.9C1949.4,667.8 1951.0,668.5 1952.6,669.8C1954.2,671.1 1956.0,673.0 1957.4,675.5C1958.9,678.0 1960.0,682.6 1961.3,685.1C1962.6,687.6 1963.8,690.4 1965.1,690.4C1966.4,690.4 1967.7,687.6 1969.0,685.1C1970.3,682.6 1971.4,677.8 1972.8,675.5C1974.2,673.2 1976.0,671.8 1977.6,671.2C1979.2,670.6 1981.0,670.8 1982.4,671.7C1983.8,672.6 1985.1,673.8 1986.2,676.5C1987.3,679.2 1988.3,683.7 1989.1,688.0C1989.9,692.3 1990.3,697.6 1991.0,702.4C1991.7,707.2 1992.6,711.8 1993.4,716.8C1994.2,721.8 1994.9,727.4 1995.8,732.2C1996.7,737.0 1997.8,742.6 1998.7,745.6C1999.6,748.6 2000.3,750.1 2001.1,750.4C2001.9,750.7 2002.6,750.0 2003.5,747.6C2004.4,745.2 2005.4,740.3 2006.4,736.0C2007.4,731.7 2008.4,727.2 2009.3,721.6C2010.2,716.0 2010.9,708.3 2011.7,702.4C2012.5,696.5 2013.2,691.2 2014.1,686.1C2015.0,681.0 2016.0,675.5 2017.0,671.7C2018.0,667.9 2018.9,665.0 2019.9,663.1C2020.9,661.2 2022.1,660.5 2023.2,660.6C2024.3,660.8 2025.5,662.3 2026.6,664.0C2027.6,665.7 2028.5,668.0 2029.5,670.7C2030.5,673.4 2031.3,677.2 2032.3,680.3C2033.2,683.3 2033.9,686.4 2035.2,689.0C2036.5,691.6 2038.5,693.3 2040.0,695.7C2041.5,698.1 2042.8,700.5 2043.9,703.4C2045.0,706.3 2045.6,710.2 2046.7,713.0C2047.8,715.8 2049.9,718.8 2050.5,720.0"/>
<path stroke="#00f" d="M137.9,1339.0C142.3,1338.7 154.9,1337.6 164.1,1336.9C173.3,1336.2 181.1,1335.6 193.2,1334.7C205.3,1333.8 224.7,1332.7 236.8,1331.8C248.9,1330.9 256.9,1330.3 265.9,1329.6C274.9,1328.9 284.1,1328.4 290.6,1327.4C297.1,1326.4 300.5,1325.4 305.1,1323.8C309.7,1322.2 315.1,1319.2 318.2,1318.0C321.3,1316.8 322.1,1316.4 324.0,1316.5C325.9,1316.6 327.5,1318.3 329.9,1318.7C332.3,1319.1 336.2,1319.9 338.6,1318.7C341.0,1317.5 342.2,1314.3 344.4,1311.4C346.6,1308.5 349.3,1303.4 351.7,1301.2C354.1,1299.0 357.1,1299.2 359.0,1298.3C360.9,1297.4 361.7,1297.0 363.0,1295.8C364.3,1294.6 365.6,1293.1 366.8,1291.0C368.0,1288.9 369.2,1286.7 370.2,1283.3C371.2,1279.9 371.9,1275.3 372.6,1270.8C373.3,1266.3 373.9,1261.2 374.5,1256.4C375.1,1251.6 375.8,1246.8 376.4,1242.0C377.0,1237.2 377.7,1232.4 378.3,1227.6C378.9,1222.8 379.5,1217.7 380.2,1213.2C380.9,1208.7 381.7,1204.4 382.6,1200.7C383.5,1197.0 384.4,1193.6 385.5,1191.1C386.6,1188.5 388.2,1186.5 389.4,1185.4C390.6,1184.3 391.6,1183.8 392.7,1184.4C393.8,1185.0 395.1,1186.8 396.1,1189.2C397.2,1191.6 398.2,1194.8 399.0,1198.8C399.8,1202.8 400.3,1208.4 400.9,1213.2C401.5,1218.0 402.2,1222.8 402.8,1227.6C403.4,1232.4 404.1,1237.2 404.7,1242.0C405.3,1246.8 406.0,1251.6 406.7,1256.4C407.4,1261.2 407.9,1266.3 408.6,1270.8C409.3,1275.3 410.1,1279.3 411.0,1283.3C411.9,1287.3 413.0,1291.6 414.3,1294.8C415.6,1298.0 417.2,1300.6 418.7,1302.5C420.2,1304.4 422.1,1305.1 423.5,1306.4C424.9,1307.7 426.1,1308.5 427.3,1310.2C428.5,1312.0 429.3,1315.1 430.7,1316.9C432.1,1318.7 433.5,1319.5 435.8,1320.8C438.1,1322.1 439.4,1323.8 444.5,1324.5C449.6,1325.2 459.4,1325.0 466.4,1325.2C473.4,1325.4 481.9,1326.6 486.7,1325.9C491.5,1325.2 492.7,1323.1 495.4,1320.8C498.1,1318.5 501.0,1314.4 502.7,1312.1C504.4,1309.8 504.3,1309.6 505.8,1306.9C507.3,1304.2 510.1,1299.8 511.8,1296.0C513.5,1292.2 514.9,1289.0 516.0,1284.0C517.1,1279.0 517.6,1272.0 518.4,1266.0C519.2,1260.0 520.0,1255.0 520.8,1248.0C521.6,1241.0 522.3,1231.0 523.2,1224.0C524.1,1217.0 525.2,1212.0 526.2,1206.0C527.2,1200.0 528.3,1194.0 529.2,1188.0C530.1,1182.0 530.7,1176.0 531.6,1170.0C532.5,1164.0 533.6,1158.0 534.6,1152.0C535.6,1146.0 536.5,1138.4 537.6,1134.0C538.7,1129.6 540.1,1127.0 541.2,1125.6C542.3,1124.2 543.3,1123.6 544.2,1125.6C545.1,1127.6 545.8,1132.2 546.6,1137.6C547.4,1143.0 548.2,1151.6 549.0,1158.0C549.8,1164.4 550.5,1170.0 551.4,1176.0C552.3,1182.0 553.2,1189.0 554.4,1194.0C555.6,1199.0 557.1,1202.0 558.6,1206.0C560.1,1210.0 561.9,1214.0 563.4,1218.0C564.9,1222.0 566.3,1226.0 567.6,1230.0C568.9,1234.0 570.1,1238.0 571.2,1242.0C572.3,1246.0 573.2,1250.0 574.2,1254.0C575.2,1258.0 575.9,1262.6 577.2,1266.0C578.5,1269.4 580.5,1271.4 582.0,1274.4C583.5,1277.4 584.7,1281.6 586.2,1284.0C587.7,1286.4 589.2,1287.8 591.0,1288.9C592.8,1290.0 595.0,1289.9 597.0,1290.6C599.0,1291.3 600.8,1292.9 603.0,1293.0C605.2,1293.1 608.0,1291.6 610.2,1291.3C612.4,1291.0 614.4,1290.5 616.2,1291.3C618.0,1292.1 619.7,1294.4 621.0,1296.0C622.3,1297.6 622.6,1299.0 624.1,1300.8C625.6,1302.6 628.2,1305.7 630.2,1306.9C632.2,1308.1 634.1,1308.2 636.3,1308.0C638.5,1307.8 641.3,1306.9 643.5,1305.9C645.7,1304.9 647.6,1302.7 649.6,1301.8C651.6,1300.9 653.3,1300.6 655.2,1300.8C657.1,1301.0 658.8,1301.5 660.8,1302.9C662.8,1304.3 664.8,1307.1 666.9,1309.0C669.0,1310.9 671.0,1312.8 673.1,1314.1C675.2,1315.4 677.2,1316.4 679.2,1317.1C681.2,1317.8 683.3,1318.4 685.3,1318.2C687.3,1318.0 689.3,1316.9 691.4,1316.1C693.5,1315.2 695.7,1313.7 697.6,1313.1C699.5,1312.5 700.8,1312.3 702.7,1312.6C704.6,1312.9 706.8,1314.4 708.8,1315.1C710.8,1315.8 713.0,1316.9 714.9,1316.6C716.8,1316.3 718.5,1314.7 720.0,1313.1C721.5,1311.5 723.1,1309.5 724.1,1306.9C725.1,1304.4 725.4,1301.4 726.1,1297.8C726.8,1294.2 727.5,1289.8 728.2,1285.5C728.9,1281.2 729.5,1276.5 730.2,1272.2C730.9,1268.0 731.5,1264.2 732.2,1260.0C732.9,1255.8 733.6,1251.0 734.3,1246.7C735.0,1242.5 735.6,1238.4 736.3,1234.5C737.0,1230.6 737.7,1226.9 738.4,1223.3C739.1,1219.7 739.5,1216.5 740.4,1213.1C741.2,1209.7 742.5,1205.6 743.5,1202.9C744.5,1200.2 745.3,1198.6 746.5,1196.7C747.7,1194.8 749.2,1192.6 750.6,1191.6C752.0,1190.6 753.3,1189.8 754.7,1190.6C756.1,1191.4 757.6,1194.2 758.8,1196.7C760.0,1199.2 760.8,1202.5 761.8,1205.9C762.8,1209.3 763.9,1213.9 764.9,1217.1C765.9,1220.3 767.0,1223.2 768.0,1225.3C769.0,1227.3 769.8,1229.7 771.0,1229.4C772.2,1229.1 773.9,1225.8 775.1,1223.3C776.3,1220.8 776.9,1217.1 778.2,1214.1C779.5,1211.1 781.5,1207.8 782.9,1205.2C784.3,1202.6 785.3,1200.1 786.9,1198.6C788.5,1197.1 790.5,1195.8 792.2,1196.0C794.0,1196.2 795.6,1197.7 797.4,1199.9C799.1,1202.1 800.9,1205.7 802.7,1209.2C804.5,1212.7 806.2,1217.4 808.0,1221.1C809.8,1224.8 811.5,1228.5 813.3,1231.6C815.1,1234.7 816.9,1238.2 818.6,1239.5C820.4,1240.8 822.3,1240.8 823.8,1239.5C825.3,1238.2 826.6,1234.4 827.8,1231.6C829.0,1228.8 830.0,1225.2 831.1,1222.4C832.2,1219.6 833.3,1215.8 834.4,1214.5C835.5,1213.2 836.6,1213.6 837.7,1214.5C838.8,1215.4 840.0,1217.1 841.0,1219.7C842.0,1222.3 842.6,1226.5 843.6,1230.3C844.6,1234.0 845.9,1238.2 847.0,1242.2C848.1,1246.2 849.0,1250.6 850.2,1254.1C851.4,1257.6 852.7,1260.7 854.2,1263.3C855.8,1265.9 858.0,1269.2 859.5,1269.9C861.0,1270.6 862.1,1269.1 863.4,1267.3C864.7,1265.5 866.1,1261.3 867.4,1259.3C868.7,1257.3 869.8,1256.1 871.4,1255.4C873.0,1254.8 875.1,1255.6 876.7,1255.4C878.4,1255.2 880.0,1255.4 881.3,1254.1C882.6,1252.8 883.6,1250.8 884.6,1247.5C885.6,1244.2 886.3,1239.1 887.2,1234.3C888.1,1229.5 889.0,1223.9 889.9,1218.4C890.8,1212.9 891.6,1207.2 892.5,1201.3C893.4,1195.4 894.2,1189.0 895.1,1182.8C896.0,1176.6 896.9,1170.2 897.8,1164.3C898.7,1158.3 899.5,1152.8 900.4,1147.1C901.3,1141.4 902.2,1135.3 903.1,1130.0C904.0,1124.7 904.7,1120.0 905.7,1115.4C906.7,1110.8 907.9,1106.4 909.0,1102.2C910.1,1098.0 911.1,1093.9 912.3,1090.4C913.5,1086.9 915.0,1083.8 916.3,1081.1C917.6,1078.4 918.7,1076.0 920.2,1074.5C921.7,1073.0 923.7,1071.9 925.5,1071.9C927.3,1071.9 928.9,1072.9 930.8,1074.5C932.7,1076.1 935.4,1078.8 937.0,1081.6C938.6,1084.4 939.4,1087.2 940.6,1091.2C941.8,1095.2 943.1,1100.9 944.2,1105.7C945.3,1110.5 946.3,1115.3 947.2,1120.1C948.1,1124.9 948.8,1129.5 949.6,1134.5C950.4,1139.5 951.1,1144.5 952.0,1150.1C952.9,1155.7 953.7,1163.1 955.0,1168.1C956.3,1173.1 958.2,1179.1 959.8,1180.1C961.4,1181.1 963.1,1177.7 964.6,1174.1C966.1,1170.5 967.4,1164.5 968.8,1158.5C970.2,1152.5 971.7,1144.5 973.0,1138.1C974.3,1131.7 975.3,1126.1 976.6,1120.1C977.9,1114.1 979.4,1107.7 980.8,1102.1C982.2,1096.5 983.6,1091.0 985.0,1086.4C986.4,1081.8 987.6,1078.4 989.2,1074.4C990.8,1070.4 992.9,1066.2 994.6,1062.4C996.3,1058.6 998.0,1055.0 999.4,1051.6C1000.8,1048.2 1001.8,1045.0 1003.0,1042.0C1004.2,1039.0 1005.2,1036.0 1006.6,1033.6C1008.0,1031.2 1009.6,1029.2 1011.4,1027.6C1013.2,1026.0 1015.4,1025.2 1017.4,1024.0C1019.4,1022.8 1021.8,1020.6 1023.5,1020.4C1025.2,1020.2 1026.5,1020.8 1027.7,1022.8C1028.9,1024.8 1029.8,1028.2 1030.7,1032.4C1031.6,1036.6 1032.3,1042.2 1033.1,1048.0C1033.9,1053.8 1034.7,1060.2 1035.5,1067.2C1036.3,1074.2 1037.1,1083.2 1037.9,1090.0C1038.7,1096.8 1039.5,1102.3 1040.3,1108.1C1041.1,1113.9 1041.8,1122.9 1042.7,1124.9C1043.6,1126.9 1044.8,1123.9 1045.7,1120.1C1046.6,1116.3 1047.3,1109.1 1048.1,1102.1C1048.9,1095.1 1049.7,1086.0 1050.5,1078.0C1051.3,1070.0 1052.1,1062.0 1052.9,1054.0C1053.7,1046.0 1054.7,1038.0 1055.3,1030.0C1055.9,1022.0 1056.0,1011.7 1056.8,1005.8C1057.5,999.9 1058.6,997.2 1059.8,994.7C1061.0,992.2 1062.6,991.0 1064.1,991.0C1065.5,991.0 1067.2,992.9 1068.5,994.7C1069.8,996.6 1070.9,1000.1 1072.1,1002.1C1073.3,1004.1 1074.3,1005.6 1075.8,1007.0C1077.2,1008.4 1079.4,1008.9 1080.8,1010.7C1082.2,1012.6 1083.2,1014.2 1084.4,1018.1C1085.6,1022.0 1087.0,1027.8 1088.1,1034.0C1089.2,1040.2 1090.3,1048.4 1091.2,1055.0C1092.1,1061.6 1092.9,1067.2 1093.7,1073.4C1094.5,1079.6 1095.2,1085.8 1096.1,1091.9C1097.0,1098.1 1098.1,1104.2 1099.2,1110.3C1100.3,1116.4 1101.6,1124.5 1102.9,1128.8C1104.2,1133.1 1105.8,1136.0 1107.2,1136.2C1108.6,1136.4 1110.4,1134.3 1111.5,1130.0C1112.6,1125.7 1113.2,1117.7 1114.0,1110.3C1114.8,1102.9 1115.6,1093.9 1116.4,1085.7C1117.2,1077.5 1118.1,1069.3 1118.9,1061.1C1119.7,1052.9 1120.5,1043.7 1121.3,1036.5C1122.1,1029.3 1122.9,1022.6 1123.8,1018.1C1124.7,1013.6 1125.8,1010.9 1126.9,1009.4C1128.0,1007.9 1129.5,1007.9 1130.6,1009.4C1131.7,1010.9 1132.8,1013.6 1133.7,1018.1C1134.6,1022.6 1135.3,1030.3 1136.1,1036.5C1136.9,1042.7 1137.7,1048.4 1138.6,1055.0C1139.5,1061.6 1140.4,1069.8 1141.6,1075.9C1142.8,1082.1 1144.5,1087.2 1146.0,1091.9C1147.5,1096.6 1149.1,1100.1 1150.3,1104.2C1151.5,1108.3 1152.4,1111.8 1153.3,1116.5C1154.2,1121.2 1155.0,1127.8 1155.8,1132.5C1156.6,1137.2 1157.4,1140.7 1158.3,1144.8C1159.2,1148.9 1160.1,1154.0 1161.3,1157.1C1162.5,1160.2 1164.2,1163.0 1165.6,1163.2C1167.0,1163.4 1168.7,1160.3 1169.9,1158.3C1171.1,1156.2 1171.7,1153.0 1173.0,1150.9C1174.3,1148.9 1176.3,1147.4 1178.0,1146.0C1179.7,1144.6 1181.6,1144.5 1182.9,1142.3C1184.2,1140.0 1185.1,1136.8 1185.9,1132.5C1186.7,1128.2 1187.0,1122.8 1187.8,1116.5C1188.6,1110.2 1189.9,1101.5 1190.8,1094.8C1191.7,1088.1 1192.1,1082.1 1192.9,1076.1C1193.7,1070.1 1194.7,1063.8 1195.8,1058.8C1196.9,1053.8 1198.0,1048.8 1199.4,1045.8C1200.8,1042.8 1202.7,1040.8 1204.4,1040.8C1206.1,1040.8 1208.0,1042.8 1209.5,1045.8C1211.0,1048.8 1211.9,1054.2 1213.1,1058.8C1214.3,1063.4 1215.6,1068.4 1216.7,1073.2C1217.8,1078.0 1218.4,1083.0 1219.6,1087.6C1220.8,1092.2 1222.2,1096.8 1223.9,1100.6C1225.6,1104.4 1227.8,1107.2 1229.6,1110.6C1231.4,1113.9 1233.2,1116.8 1234.7,1120.7C1236.2,1124.6 1237.1,1128.9 1238.3,1133.7C1239.5,1138.5 1240.7,1144.2 1241.9,1149.5C1243.1,1154.8 1244.3,1160.4 1245.5,1165.4C1246.7,1170.5 1247.9,1175.5 1249.1,1179.8C1250.3,1184.1 1251.4,1189.1 1252.7,1191.3C1254.0,1193.5 1255.7,1194.4 1257.0,1192.7C1258.3,1191.0 1259.5,1186.0 1260.6,1181.2C1261.7,1176.4 1262.5,1169.4 1263.5,1163.9C1264.5,1158.4 1265.3,1152.9 1266.4,1148.1C1267.5,1143.3 1268.8,1136.8 1270.0,1135.1C1271.2,1133.4 1272.4,1135.1 1273.6,1138.0C1274.8,1140.9 1276.1,1146.4 1277.2,1152.4C1278.3,1158.4 1279.0,1166.8 1280.0,1174.0C1281.0,1181.2 1281.9,1188.4 1282.9,1195.6C1283.9,1202.8 1284.7,1211.2 1285.8,1217.2C1286.9,1223.2 1288.0,1227.3 1289.4,1231.6C1290.8,1235.9 1292.6,1240.0 1294.4,1243.1C1296.2,1246.2 1297.9,1248.3 1300.2,1250.3C1302.5,1252.3 1305.4,1252.0 1308.5,1255.0C1311.6,1258.0 1315.2,1264.8 1318.6,1268.5C1322.0,1272.2 1325.1,1274.7 1328.7,1276.9C1332.3,1279.1 1336.2,1280.6 1340.4,1281.9C1344.6,1283.2 1350.5,1283.7 1353.9,1284.5C1357.3,1285.3 1357.8,1284.9 1360.6,1287.0C1363.4,1289.1 1367.3,1293.8 1370.7,1297.1C1374.1,1300.4 1376.9,1304.6 1380.8,1307.1C1384.7,1309.6 1388.0,1311.3 1394.2,1312.2C1400.4,1313.1 1411.8,1312.9 1417.7,1312.2C1423.6,1311.5 1425.8,1309.0 1429.5,1308.0C1433.2,1307.0 1437.2,1306.8 1440.0,1306.1C1442.8,1305.4 1444.6,1305.3 1446.5,1303.7C1448.4,1302.1 1449.7,1299.8 1451.3,1296.4C1452.9,1293.0 1454.4,1288.0 1456.2,1283.4C1458.0,1278.8 1460.2,1273.4 1461.9,1268.8C1463.7,1264.2 1465.4,1261.3 1466.7,1255.9C1468.0,1250.5 1469.0,1243.7 1470.0,1236.4C1471.0,1229.1 1471.6,1220.2 1472.4,1212.1C1473.2,1204.0 1474.1,1195.4 1474.9,1187.8C1475.7,1180.2 1476.4,1173.5 1477.3,1166.7C1478.2,1160.0 1479.2,1151.6 1480.5,1147.3C1481.8,1143.0 1483.8,1141.1 1485.4,1140.8C1487.0,1140.5 1488.8,1142.9 1490.3,1145.6C1491.8,1148.3 1492.9,1152.9 1494.3,1157.0C1495.7,1161.1 1497.1,1166.0 1498.4,1170.0C1499.8,1174.0 1500.9,1178.9 1502.4,1181.3C1503.9,1183.7 1505.5,1184.8 1507.3,1184.5C1509.0,1184.2 1510.9,1181.2 1512.9,1179.7C1514.9,1178.2 1517.6,1177.8 1519.4,1175.6C1521.2,1173.4 1522.3,1170.9 1523.5,1166.7C1524.7,1162.5 1525.6,1157.0 1526.7,1150.5C1527.8,1144.0 1528.9,1135.9 1530.0,1127.8C1531.1,1119.7 1532.0,1110.0 1533.2,1101.9C1534.4,1093.8 1535.8,1085.3 1537.3,1079.2C1538.8,1073.1 1540.5,1066.8 1542.1,1065.4C1543.7,1064.1 1545.7,1066.9 1547.0,1071.1C1548.3,1075.3 1549.1,1082.7 1550.2,1090.5C1551.3,1098.3 1552.4,1109.4 1553.5,1118.1C1554.6,1126.8 1555.5,1134.3 1556.7,1142.4C1557.9,1150.5 1559.5,1159.1 1560.8,1166.7C1562.1,1174.3 1563.3,1181.3 1564.8,1187.8C1566.3,1194.3 1568.2,1201.5 1569.7,1205.6C1571.2,1209.6 1572.1,1212.1 1573.7,1212.1C1575.3,1212.1 1577.8,1206.1 1579.4,1205.6C1581.0,1205.1 1582.3,1206.2 1583.5,1208.9C1584.7,1211.6 1585.5,1217.8 1586.7,1221.8C1587.9,1225.8 1589.3,1232.7 1590.8,1233.2C1592.3,1233.8 1594.1,1229.8 1595.6,1225.1C1597.1,1220.3 1598.6,1210.0 1599.8,1204.7C1601.0,1199.4 1601.7,1196.6 1602.7,1193.2C1603.7,1189.8 1604.7,1186.7 1606.0,1184.6C1607.3,1182.5 1609.0,1180.4 1610.4,1180.7C1611.8,1181.0 1613.2,1183.6 1614.2,1186.5C1615.2,1189.4 1615.9,1193.7 1616.6,1198.0C1617.3,1202.3 1617.9,1206.8 1618.5,1212.4C1619.1,1218.0 1619.8,1225.2 1620.4,1231.6C1621.1,1238.0 1621.7,1244.7 1622.4,1250.8C1623.1,1256.9 1623.9,1262.8 1624.8,1268.1C1625.7,1273.4 1626.6,1278.2 1627.7,1282.5C1628.8,1286.8 1630.1,1291.2 1631.5,1294.1C1632.9,1297.0 1634.7,1299.2 1636.3,1299.8C1637.9,1300.4 1639.7,1299.7 1641.1,1297.9C1642.5,1296.1 1643.8,1292.4 1644.9,1289.2C1646.0,1286.0 1646.7,1282.1 1647.8,1278.7C1648.9,1275.3 1650.4,1272.0 1651.7,1269.1C1653.0,1266.2 1654.2,1263.8 1655.5,1261.4C1656.8,1259.0 1658.0,1256.0 1659.3,1254.7C1660.6,1253.4 1662.0,1253.2 1663.2,1253.7C1664.4,1254.2 1665.5,1256.1 1666.5,1257.6C1667.5,1259.0 1668.4,1262.2 1669.4,1262.4C1670.4,1262.6 1671.4,1261.2 1672.3,1258.5C1673.2,1255.8 1674.0,1251.3 1674.7,1246.0C1675.4,1240.7 1676.0,1233.2 1676.6,1226.8C1677.2,1220.4 1677.6,1214.0 1678.1,1207.6C1678.6,1201.2 1679.0,1194.0 1679.5,1188.4C1680.0,1182.8 1680.5,1177.5 1681.4,1174.0C1682.3,1170.5 1683.7,1167.8 1684.8,1167.3C1685.9,1166.8 1687.2,1168.4 1688.2,1171.1C1689.2,1173.8 1690.0,1179.1 1691.0,1183.6C1692.0,1188.1 1692.9,1193.7 1693.9,1198.0C1694.9,1202.3 1695.7,1205.7 1696.8,1209.5C1697.9,1213.3 1699.3,1217.9 1700.6,1221.1C1701.9,1224.3 1703.3,1227.3 1704.5,1228.7C1705.7,1230.1 1706.8,1230.8 1707.8,1229.7C1708.8,1228.6 1709.9,1225.7 1710.7,1222.0C1711.5,1218.3 1711.9,1212.7 1712.6,1207.6C1713.2,1202.5 1713.9,1195.9 1714.6,1191.3C1715.3,1186.7 1716.1,1182.4 1717.0,1179.8C1717.9,1177.2 1718.8,1175.9 1719.8,1175.9C1720.8,1175.9 1722.2,1176.9 1723.2,1179.8C1724.2,1182.7 1724.8,1188.2 1725.6,1193.2C1726.4,1198.2 1727.2,1203.9 1728.0,1209.5C1728.8,1215.1 1729.4,1222.5 1730.4,1226.8C1731.4,1231.1 1732.7,1234.7 1733.8,1235.5C1734.9,1236.3 1736.1,1234.6 1737.1,1231.6C1738.0,1228.5 1738.7,1221.8 1739.5,1217.2C1740.3,1212.6 1741.0,1207.8 1741.9,1203.8C1742.8,1199.8 1743.7,1196.5 1745.0,1193.2C1746.3,1189.9 1748.0,1186.5 1749.6,1183.7C1751.2,1180.9 1752.5,1178.1 1754.4,1176.5C1756.3,1174.9 1759.0,1173.9 1761.0,1174.1C1763.0,1174.3 1764.9,1175.7 1766.4,1177.7C1767.9,1179.7 1768.9,1182.3 1770.0,1186.1C1771.1,1189.9 1772.0,1195.5 1773.0,1200.5C1774.0,1205.5 1775.0,1211.1 1776.0,1216.1C1777.0,1221.1 1778.0,1226.5 1779.0,1230.5C1780.0,1234.5 1780.8,1238.3 1782.0,1240.1C1783.2,1241.9 1784.8,1241.9 1786.2,1241.3C1787.6,1240.7 1789.1,1238.9 1790.4,1236.5C1791.7,1234.1 1792.6,1230.1 1794.0,1226.9C1795.4,1223.7 1797.0,1220.3 1798.8,1217.3C1800.6,1214.3 1803.0,1211.3 1804.8,1208.9C1806.6,1206.5 1808.0,1204.5 1809.6,1202.9C1811.2,1201.3 1812.9,1199.1 1814.4,1199.3C1815.9,1199.5 1817.4,1201.7 1818.6,1204.1C1819.8,1206.5 1820.6,1210.3 1821.6,1213.7C1822.6,1217.1 1823.4,1221.5 1824.6,1224.5C1825.8,1227.5 1826.9,1230.3 1828.8,1231.7C1830.7,1233.1 1833.6,1232.7 1836.0,1232.9C1838.4,1233.1 1841.1,1233.5 1843.3,1232.9C1845.5,1232.3 1847.5,1230.7 1849.3,1229.3C1851.1,1227.9 1852.9,1227.1 1854.1,1224.5C1855.3,1221.9 1855.8,1218.1 1856.5,1213.7C1857.2,1209.3 1857.7,1204.7 1858.3,1198.1C1858.9,1191.5 1859.5,1182.1 1860.1,1174.1C1860.7,1166.1 1861.3,1158.0 1861.9,1150.0C1862.5,1142.0 1863.0,1134.0 1863.7,1126.0C1864.4,1118.0 1865.2,1109.0 1866.1,1102.0C1867.0,1095.0 1868.1,1088.4 1869.1,1084.0C1870.1,1079.6 1870.8,1077.2 1872.1,1075.6C1873.4,1074.0 1875.3,1073.2 1876.9,1074.4C1878.5,1075.6 1880.2,1079.0 1881.7,1082.7C1883.2,1086.4 1884.2,1093.6 1885.6,1096.7C1887.0,1099.8 1888.7,1102.4 1890.3,1101.4C1891.9,1100.4 1893.4,1094.2 1895.0,1090.5C1896.6,1086.8 1898.2,1082.4 1899.7,1079.5C1901.2,1076.6 1902.8,1076.1 1904.3,1073.3C1905.8,1070.5 1907.4,1066.3 1909.0,1062.4C1910.6,1058.5 1911.9,1053.6 1913.7,1049.9C1915.5,1046.2 1917.1,1043.9 1920.0,1040.5C1922.9,1037.1 1928.7,1033.5 1931.1,1029.7C1933.5,1025.9 1933.2,1024.6 1934.2,1017.5C1935.2,1010.4 1936.2,997.1 1937.2,986.9C1938.2,976.7 1939.4,965.1 1940.3,956.2C1941.2,947.3 1941.8,939.9 1942.6,933.3C1943.4,926.7 1944.0,920.2 1944.9,916.4C1945.8,912.6 1947.0,910.0 1948.0,910.3C1949.0,910.6 1950.0,913.7 1951.0,918.0C1952.0,922.3 1952.9,929.4 1954.1,936.3C1955.2,943.2 1956.8,952.1 1957.9,959.3C1959.1,966.4 1960.0,973.1 1961.0,979.2C1962.0,985.3 1962.8,991.5 1964.0,996.1C1965.2,1000.7 1966.5,1005.3 1967.9,1006.8C1969.3,1008.3 1970.8,1005.7 1972.5,1005.2C1974.2,1004.7 1976.1,1002.7 1977.8,1003.7C1979.5,1004.7 1981.1,1007.8 1982.4,1011.4C1983.7,1015.0 1984.5,1019.0 1985.5,1025.1C1986.5,1031.2 1987.6,1040.4 1988.5,1048.1C1989.4,1055.8 1989.9,1063.4 1990.8,1071.1C1991.7,1078.8 1993.0,1086.4 1993.9,1094.1C1994.8,1101.8 1995.2,1110.1 1996.2,1117.0C1997.2,1123.9 1998.7,1134.1 2000.0,1135.4C2001.3,1136.7 2002.6,1130.3 2003.9,1124.7C2005.2,1119.1 2006.3,1109.4 2007.7,1101.7C2009.1,1094.0 2010.8,1086.4 2012.3,1078.7C2013.8,1071.0 2015.5,1063.5 2016.9,1055.8C2018.3,1048.1 2019.6,1040.5 2020.7,1032.8C2021.8,1025.1 2022.8,1018.7 2023.8,1009.8C2024.8,1000.9 2025.8,988.1 2026.8,979.2C2027.8,970.3 2028.8,963.6 2029.9,956.2C2031.1,948.8 2032.3,939.6 2033.7,934.8C2035.1,930.0 2036.9,927.2 2038.3,927.2C2039.7,927.2 2040.9,930.5 2042.1,934.8C2043.2,939.1 2044.3,947.1 2045.2,953.2C2046.1,959.3 2046.7,964.7 2047.5,971.6C2048.3,978.5 2049.2,988.1 2049.8,994.5C2050.4,1000.9 2051.1,1007.2 2051.3,1009.8"/>
</g>
<rect x="1196.0" y="635" width="6.8" height="71.0" fill="#000"/>
<rect x="753.0" y="1168.6" width="6.8" height="54.9" fill="#000"/>
<rect x="1083.1" y="990" width="6.8" height="54.6" fill="#000"/>
<rect x="1607.6" y="1159" width="6.8" height="56.0" fill="#000"/>
<rect x="1871.9" y="1052.2" width="6.8" height="37.2" fill="#000"/>
<g fill="#000">
<rect x="138" y="15" width="1913" height="7"/>
<rect x="135" y="18" width="6" height="1425"/>
<rect x="138" y="1439" width="1913" height="6"/>
<rect x="2047" y="18" width="7" height="1438"/>
<rect x="211.0" y="1445" width="7" height="11"/>
<rect x="364.0" y="1445" width="7" height="25"/>
<rect x="517.0" y="1445" width="7" height="11"/>
<rect x="670.0" y="1445" width="7" height="25"/>
<rect x="823.0" y="1445" width="7" height="11"/>
<rect x="976.0" y="1445" width="7" height="25"/>
<rect x="1129.0" y="1445" width="7" height="11"/>
<rect x="1282.0" y="1445" width="7" height="25"/>
<rect x="1435.0" y="1445" width="7" height="11"/>
<rect x="1588.0" y="1445" width="7" height="25"/>
<rect x="1741.0" y="1445" width="7" height="11"/>
<rect x="1894.0" y="1445" width="7" height="25"/>
</g>
<text transform="translate(308.07,1531.00) scale(1,1.04)" font-size="54.5" fill="#000" clip-path="url(#k54_50)">1</text><text transform="translate(336.79,1531.00) scale(1,1.04)" font-size="54.5" fill="#000">600</text>
<text transform="translate(614.07,1531.00) scale(1,1.04)" font-size="54.5" fill="#000" clip-path="url(#k54_50)">1</text><text transform="translate(642.79,1531.00) scale(1,1.04)" font-size="54.5" fill="#000">400</text>
<text transform="translate(920.07,1531.00) scale(1,1.04)" font-size="54.5" fill="#000" clip-path="url(#k54_50)">1</text><text transform="translate(948.79,1531.00) scale(1,1.04)" font-size="54.5" fill="#000">200</text>
<text transform="translate(1226.07,1531.00) scale(1,1.04)" font-size="54.5" fill="#000" clip-path="url(#k54_50)">1</text><text transform="translate(1254.79,1531.00) scale(1,1.04)" font-size="54.5" fill="#000">000</text>
<text transform="translate(1547.41,1531.00) scale(1,1.04)" font-size="54.5" fill="#000">800</text>
<text transform="translate(1853.22,1531.00) scale(1,1.04)" font-size="54.5" fill="#000">600</text>
<text transform="translate(796.61,1650.00) scale(1,1.04)" font-size="67" fill="#000">W</text>
<text transform="translate(864.55,1650.00) scale(1,1.04)" font-size="67" fill="#000" textLength="467.86" lengthAdjust="spacing">avenumber (cm</text>
<text transform="translate(1333.00,1612.70) scale(1,1.04)" font-size="40.5" fill="#000">-</text>
<text transform="translate(1347.14,1612.70) scale(1,1.04)" font-size="40.5" fill="#000" clip-path="url(#k40_50)">1</text>
<text transform="translate(1369.71,1650.00) scale(1,1.04)" font-size="67" fill="#000">)</text>
<text transform="translate(55.8,988.13) rotate(-90) scale(1,1.04)" font-size="67" fill="#000" textLength="535.29" lengthAdjust="spacing">Absorbance (a.u.)</text>
<text transform="translate(1626.50,236.75) scale(1,1.04)" font-size="67" fill="#f00">Py-APE</text>
<text transform="translate(1596.50,669.90) scale(1,1.04)" font-size="67" fill="#000">PIL-BF</text>
<text transform="translate(1804.68,696.00) scale(1,1.04)" font-size="40" fill="#000">4</text>
<text transform="translate(1528.50,983.70) scale(1,1.04)" font-size="67" fill="#00f">PIL-TFSI</text>
<text transform="translate(503.66,680.00) scale(1,1.04)" font-size="54.5" fill="#000" clip-path="url(#k54_50)">1</text><text transform="translate(532.38,680.00) scale(1,1.04)" font-size="54.5" fill="#000">482cm</text>
<text transform="translate(695.58,647.00) scale(1,1.04)" font-size="54.5" fill="#000">-</text>
<text transform="translate(718.38,647.00) scale(1,1.04)" font-size="54.5" fill="#000" clip-path="url(#k54_50)">1</text>
<text transform="translate(1111.66,626.00) scale(1,1.04)" font-size="54.5" fill="#000" clip-path="url(#k54_50)">1</text><text transform="translate(1140.38,626.00) scale(1,1.04)" font-size="54.5" fill="#000">055 cm</text>
<text transform="translate(1318.58,591.80) scale(1,1.04)" font-size="54.5" fill="#000">-</text>
<text transform="translate(1340.48,591.80) scale(1,1.04)" font-size="54.5" fill="#000" clip-path="url(#k54_50)">1</text>
<text transform="translate(137.76,822.90) scale(1,1.04)" font-size="54.5" fill="#000" clip-path="url(#k54_50)">1</text><text transform="translate(166.48,822.90) scale(1,1.04)" font-size="54.5" fill="#000">609 cm</text>
<text transform="translate(345.78,790.30) scale(1,1.04)" font-size="54.5" fill="#000">-</text>
<text transform="translate(366.98,790.30) scale(1,1.04)" font-size="54.5" fill="#000" clip-path="url(#k54_50)">1</text>
<text transform="translate(1103.56,986.00) scale(1,1.04)" font-size="54.5" fill="#000" clip-path="url(#k54_50)">1</text><text transform="translate(1133.87,986.00) scale(1,1.04)" font-size="54.5" fill="#000" clip-path="url(#k54_50)">1</text><text transform="translate(1162.59,986.00) scale(1,1.04)" font-size="54.5" fill="#000">38cm</text>
<text transform="translate(1295.58,955.40) scale(1,1.04)" font-size="54.5" fill="#000">-</text>
<text transform="translate(1317.28,955.40) scale(1,1.04)" font-size="54.5" fill="#000" clip-path="url(#k54_50)">1</text>
<text transform="translate(682.66,1114.00) scale(1,1.04)" font-size="54.5" fill="#000" clip-path="url(#k54_50)">1</text><text transform="translate(711.38,1114.00) scale(1,1.04)" font-size="54.5" fill="#000">349 cm</text>
<text transform="translate(890.18,1087.40) scale(1,1.04)" font-size="54.5" fill="#000">-</text>
<text transform="translate(912.78,1087.40) scale(1,1.04)" font-size="54.5" fill="#000" clip-path="url(#k54_50)">1</text>
<text transform="translate(1562.91,1130.00) scale(1,1.04)" font-size="54.5" fill="#000">787cm</text>
<text transform="translate(1726.48,1102.30) scale(1,1.04)" font-size="54.5" fill="#000">-</text>
<text transform="translate(1749.28,1102.30) scale(1,1.04)" font-size="54.5" fill="#000" clip-path="url(#k54_50)">1</text>
<text transform="translate(1806.03,1048.00) scale(1,1.04)" font-size="54.5" fill="#000">6</text><text transform="translate(1837.94,1048.00) scale(1,1.04)" font-size="54.5" fill="#000" clip-path="url(#k54_50)">1</text><text transform="translate(1866.65,1048.00) scale(1,1.04)" font-size="54.5" fill="#000">5cm</text>
<text transform="translate(1970.58,1020.70) scale(1,1.04)" font-size="54.5" fill="#000">-</text>
<text transform="translate(1992.48,1020.70) scale(1,1.04)" font-size="54.5" fill="#000" clip-path="url(#k54_50)">1</text>
<defs><clipPath id="k54_50" clipPathUnits="userSpaceOnUse"><rect x="-5.32" y="-42.58" width="39.92" height="37.26"/><rect x="13.49" y="-5.59" width="5.24" height="6.92"/></clipPath><clipPath id="k40_50" clipPathUnits="userSpaceOnUse"><rect x="-3.96" y="-31.64" width="29.66" height="27.69"/><rect x="10.03" y="-4.15" width="3.90" height="5.14"/></clipPath></defs>
</svg></body></html>
